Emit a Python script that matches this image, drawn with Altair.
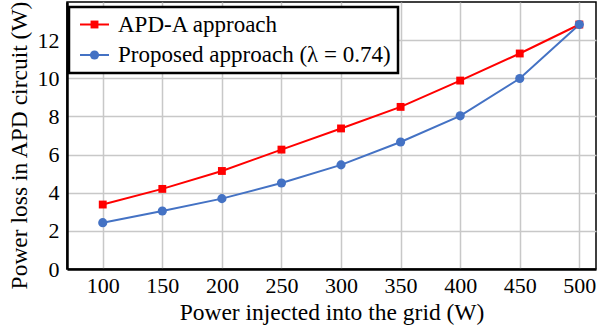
import altair as alt
import pandas as pd

powers = [100, 150, 200, 250, 300, 350, 400, 450, 500]
apd_a = [3.38, 4.20, 5.14, 6.26, 7.37, 8.50, 9.88, 11.30, 12.82]
proposed = [2.43, 3.04, 3.69, 4.51, 5.46, 6.66, 8.03, 9.99, 12.82]
series_names = ["APD-A approach", "Proposed approach (λ = 0.74)"]
colors = ["#ff0000", "#4472c4"]
marker_shapes = ["square", "circle"]
marker_sizes = [62, 84]
y_ticks = [0, 2, 4, 6, 8, 10, 12]

rows = []
for p, v in zip(powers, apd_a):
    rows.append({"power": p, "loss": v, "series": series_names[0]})
for p, v in zip(powers, proposed):
    rows.append({"power": p, "loss": v, "series": series_names[1]})
df = pd.DataFrame(rows)
leg_df = pd.DataFrame({"series": series_names})

FONT = "Liberation Serif"

color_scale = alt.Scale(domain=series_names, range=colors)
shape_scale = alt.Scale(domain=series_names, range=marker_shapes)
size_scale = alt.Scale(domain=series_names, range=marker_sizes)

x_enc = alt.X(
    "power:Q",
    scale=alt.Scale(domain=[70, 514], nice=False, zero=False),
    axis=alt.Axis(values=powers, title="Power injected into the grid (W)"),
)
y_enc = alt.Y(
    "loss:Q",
    scale=alt.Scale(domain=[0, 14], nice=False),
    axis=alt.Axis(values=y_ticks, title="Power loss in APD circuit (W)", titleY=143),
)

base = alt.Chart(df)
lines = base.mark_line(strokeWidth=2).encode(
    x=x_enc, y=y_enc, color=alt.Color("series:N", scale=color_scale, legend=None)
)


def marker_layer(name):
    return base.transform_filter(alt.datum.series == name).mark_point(
        filled=True, opacity=1
    ).encode(
        x=x_enc,
        y=y_enc,
        color=alt.Color("series:N", scale=color_scale, legend=None),
        shape=alt.Shape("series:N", scale=shape_scale, legend=None),
        size=alt.Size("series:N", scale=size_scale, legend=None),
    )


# APD-A squares first, proposed circles drawn on top of them
data_layer = alt.layer(lines, marker_layer(series_names[0]), marker_layer(series_names[1]))

# legend (boxed, inside the top-left of the plot)
leg_y = alt.Y(
    "series:N",
    scale=alt.Scale(type="point", domain=series_names, range=[22.5, 53], padding=0),
    axis=None,
)
leg_base = alt.Chart(leg_df)
leg_box = alt.Chart(pd.DataFrame({"box": [0]})).mark_rect(
    fill="white", stroke="black", strokeWidth=2.5
).encode(x=alt.value(2), x2=alt.value(331), y=alt.value(5), y2=alt.value(71))
leg_lines = leg_base.mark_rule(strokeWidth=2).encode(
    x=alt.value(13), x2=alt.value(42), y=leg_y,
    color=alt.Color("series:N", scale=color_scale, legend=None),
)
leg_marks = leg_base.mark_point(filled=True, opacity=1).encode(
    x=alt.value(27.5), y=leg_y,
    color=alt.Color("series:N", scale=color_scale, legend=None),
    shape=alt.Shape("series:N", scale=shape_scale, legend=None),
    size=alt.Size("series:N", scale=size_scale, legend=None),
)
leg_text = leg_base.mark_text(
    align="left", baseline="middle", font=FONT, fontSize=23, color="black"
).encode(x=alt.value(51), y=leg_y, text="series:N")
legend_layer = alt.layer(leg_box, leg_lines, leg_marks, leg_text)

chart = (
    alt.layer(data_layer, legend_layer)
    .resolve_scale(y="independent")
    .properties(
        width=529,
        height=267,
        autosize=alt.AutoSizeParams(type="none"),
        padding={"left": 67, "top": 2, "right": 1, "bottom": 63},
        background="white",
    )
    .configure_view(stroke="black", strokeWidth=1.5)
    .configure_axis(
        labelFont=FONT,
        titleFont=FONT,
        labelFontSize=22,
        titleFontSize=23.5,
        labelColor="black",
        titleColor="black",
        titleFontWeight="normal",
        ticks=False,
        domainColor="black",
        domainWidth=2.5,
        gridColor="#c8c8c8",
        gridWidth=1.5,
    )
    .configure_axisX(labelPadding=6, titlePadding=4)
    .configure_axisY(labelPadding=8, titlePadding=6)
)

chart.save("out.html", embed_options={"renderer": "svg", "actions": False})
